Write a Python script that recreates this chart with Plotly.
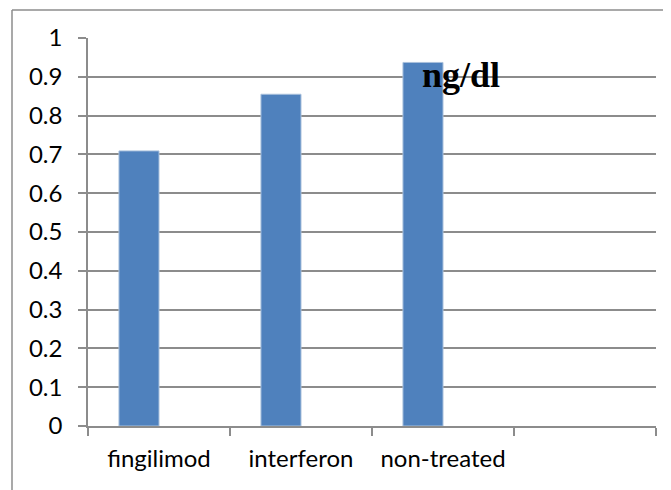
import plotly.graph_objects as go

categories = ["fingilimod", "interferon", "non-treated", " "]
values = [0.709, 0.855, 0.937, None]
y_ticks = [0, 0.1, 0.2, 0.3, 0.4, 0.5, 0.6, 0.7, 0.8, 0.9, 1]
unit_label = "ng/dl"

GRAY = "#8c8c8c"
# page body has an 8px default margin; compensate so plot area lands at x 88..656, y 38..426
fig = go.Figure()
fig.add_trace(go.Bar(
    x=categories, y=values,
    width=0.282, offset=-0.282,
    marker=dict(color="#4f81bd", line=dict(color="#a9c0dc", width=1)),
))

fig.update_layout(
    width=671, height=490,
    margin=dict(l=80, r=23, t=30, b=72),
    paper_bgcolor="white", plot_bgcolor="white",
    showlegend=False,
    font=dict(family="Lato", size=24, color="black"),
    xaxis=dict(
        type="category", range=[-0.5, 3.5],
        tickson="boundaries", ticks="outside", ticklen=8, tickcolor=GRAY, tickwidth=1.5,
        showline=True, linecolor=GRAY, linewidth=1.5,
        showgrid=False, ticklabelstandoff=10,
    ),
    yaxis=dict(
        range=[0, 1], tickvals=y_ticks, ticktext=[f"{v:g}" for v in y_ticks],
        ticks="outside", ticklen=8, tickcolor=GRAY, tickwidth=1.5,
        showline=True, linecolor=GRAY, linewidth=1.5,
        showgrid=True, gridcolor=GRAY, gridwidth=1.5,
        zeroline=False, ticklabelstandoff=11,
    ),
    shapes=[
        dict(type="line", xref="paper", yref="paper",
             x0=(12 - 88) / 568, x1=1.3, y0=(426 - 10) / 388, y1=(426 - 10) / 388,
             line=dict(color="#8c8c8c", width=1.5), layer="above"),
        dict(type="line", xref="paper", yref="paper",
             x0=(12 - 88) / 568, x1=(12 - 88) / 568, y0=-0.4, y1=(426 - 10) / 388,
             line=dict(color="#8c8c8c", width=1.5), layer="above"),
    ],
    annotations=[dict(
        text=f"<b>{unit_label}</b>", xref="paper", yref="y",
        x=(420 - 88) / 568, y=0.905, xanchor="left", yanchor="middle",
        showarrow=False, font=dict(family="Liberation Serif", size=36, color="black"),
    )],
)
fig.write_html("out.html")
